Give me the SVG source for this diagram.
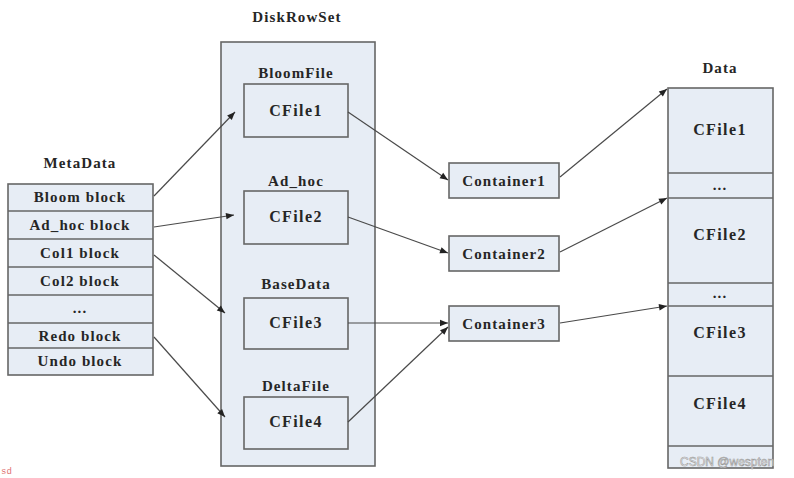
<svg xmlns="http://www.w3.org/2000/svg" width="794" height="478" viewBox="0 0 794 478">
<defs>
<style>
.box{fill:#e7edf5;stroke:#666;stroke-width:1.6}
.t{font-family:"Liberation Serif","Times New Roman",serif;font-weight:bold;font-size:15px;fill:#262626;text-anchor:middle;letter-spacing:1.1px}
.f{font-size:16px;letter-spacing:1.4px}
.c{stroke:#4a4a4a;stroke-width:1.2;fill:none;marker-end:url(#ah)}
.sep{stroke:#666;stroke-width:1.6}
</style>
<marker id="ah" viewBox="0 0 10 10" refX="10" refY="5" markerWidth="10" markerHeight="8" markerUnits="userSpaceOnUse" orient="auto">
<path d="M0,1 L10,5 L0,9 Z" fill="#222"/>
</marker>
</defs>
<rect width="794" height="478" fill="#fff"/>

<g id="metadata">
<text class="t" x="80" y="168">MetaData</text>
<rect class="box" x="8" y="184" width="145" height="191"/>
<line class="sep" x1="8" y1="211" x2="153" y2="211"/>
<line class="sep" x1="8" y1="239" x2="153" y2="239"/>
<line class="sep" x1="8" y1="267" x2="153" y2="267"/>
<line class="sep" x1="8" y1="295" x2="153" y2="295"/>
<line class="sep" x1="8" y1="323" x2="153" y2="323"/>
<line class="sep" x1="8" y1="348" x2="153" y2="348"/>
<text class="t" x="80" y="202">Bloom block</text>
<text class="t" x="80" y="230">Ad_hoc block</text>
<text class="t" x="80" y="258">Col1 block</text>
<text class="t" x="80" y="286">Col2 block</text>
<text class="t" x="80" y="313">...</text>
<text class="t" x="80" y="341">Redo block</text>
<text class="t" x="80" y="366">Undo block</text>
</g>

<g id="diskrowset">
<text class="t" x="297" y="22">DiskRowSet</text>
<rect class="box" x="221" y="42" width="154" height="424"/>
</g>
<g id="cfile1">
<text class="t" x="296" y="78">BloomFile</text>
<rect class="box" x="244" y="84" width="104" height="53"/>
<text class="t f" x="296" y="116">CFile1</text>
</g>
<g id="cfile2">
<text class="t" x="296" y="186">Ad_hoc</text>
<rect class="box" x="244" y="191" width="104" height="53"/>
<text class="t f" x="296" y="222">CFile2</text>
</g>
<g id="cfile3">
<text class="t" x="296" y="289">BaseData</text>
<rect class="box" x="244" y="298" width="104" height="51"/>
<text class="t f" x="296" y="328">CFile3</text>
</g>
<g id="cfile4">
<text class="t" x="296" y="391">DeltaFile</text>
<rect class="box" x="244" y="397" width="104" height="52"/>
<text class="t f" x="296" y="427">CFile4</text>
</g>

<g id="container1">
<rect class="box" x="449" y="163" width="110" height="35"/>
<text class="t" x="504" y="186">Container1</text>
</g>
<g id="container2">
<rect class="box" x="449" y="236" width="110" height="35"/>
<text class="t" x="504" y="259">Container2</text>
</g>
<g id="container3">
<rect class="box" x="449" y="306" width="110" height="35"/>
<text class="t" x="504" y="329">Container3</text>
</g>

<g id="data">
<text class="t" x="720" y="73">Data</text>
<rect class="box" x="668" y="88" width="105" height="380"/>
<line class="sep" x1="668" y1="173" x2="773" y2="173"/>
<line class="sep" x1="668" y1="198" x2="773" y2="198"/>
<line class="sep" x1="668" y1="283" x2="773" y2="283"/>
<line class="sep" x1="668" y1="306" x2="773" y2="306"/>
<line class="sep" x1="668" y1="376" x2="773" y2="376"/>
<line class="sep" x1="668" y1="446" x2="773" y2="446"/>
<text class="t f" x="720" y="135">CFile1</text>
<text class="t" x="720" y="190">...</text>
<text class="t f" x="720" y="240">CFile2</text>
<text class="t" x="720" y="298">...</text>
<text class="t f" x="720" y="338">CFile3</text>
<text class="t f" x="720" y="409">CFile4</text>
</g>

<g id="connectors">
<line class="c" x1="154" y1="196" x2="235" y2="112"/>
<line class="c" x1="154" y1="227" x2="234" y2="215"/>
<line class="c" x1="154" y1="255" x2="225" y2="313"/>
<line class="c" x1="154" y1="337" x2="225" y2="417"/>
<line class="c" x1="348" y1="112" x2="448" y2="180"/>
<line class="c" x1="348" y1="217" x2="448" y2="253"/>
<line class="c" x1="348" y1="323" x2="448" y2="323"/>
<line class="c" x1="348" y1="422" x2="448" y2="327"/>
<line class="c" x1="560" y1="177" x2="667" y2="89"/>
<line class="c" x1="560" y1="252" x2="667" y2="198"/>
<line class="c" x1="560" y1="323" x2="667" y2="306"/>
</g>

<text x="680" y="466" font-family="Liberation Sans, Arial, sans-serif" font-size="12" fill="#fff" stroke="#9a9a9a" stroke-width="0.6">CSDN @wespten</text>
<text x="1" y="474" font-family="Liberation Mono, monospace" font-size="9" fill="#e07070">sd</text>
</svg>
